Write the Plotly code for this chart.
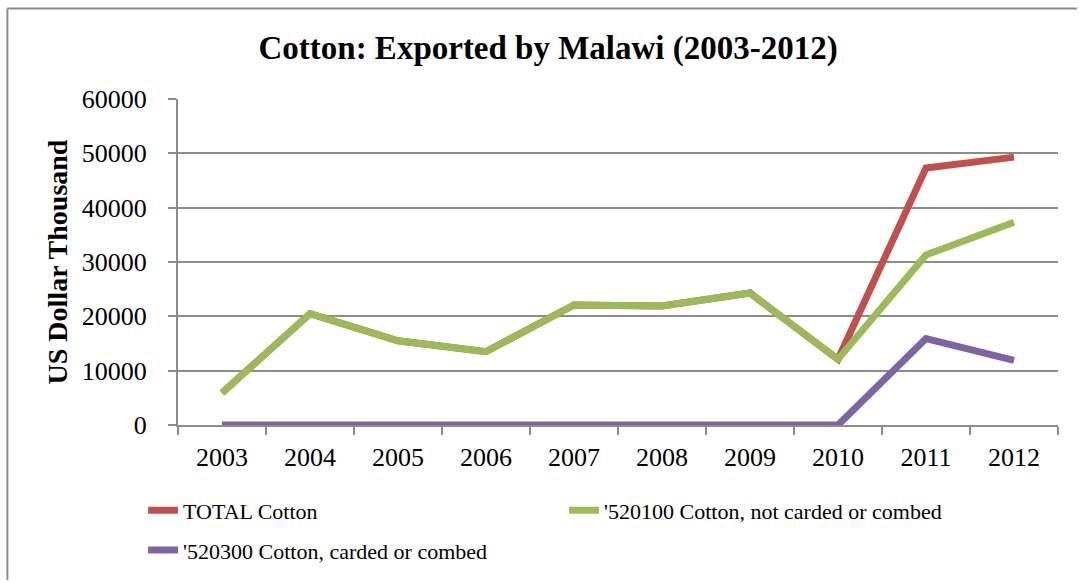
import plotly.graph_objects as go

years = ["2003", "2004", "2005", "2006", "2007", "2008", "2009", "2010", "2011", "2012"]
total_cotton = [5900, 20500, 15500, 13500, 22100, 21900, 24300, 12100, 47300, 49300]
not_carded = [5900, 20500, 15500, 13500, 22100, 21900, 24300, 12100, 31300, 37300]
carded = [0, 0, 0, 0, 0, 0, 0, 0, 15900, 11900]
y_ticks = [0, 10000, 20000, 30000, 40000, 50000, 60000]

serif = "Liberation Serif"
grid = "#8c8c8c"
PW, PH = 882, 328  # plot area size in px (for paper coords)

fig = go.Figure()
fig.add_trace(go.Scatter(x=years, y=total_cotton, mode="lines", name="TOTAL Cotton",
                         line=dict(color="#C0504D", width=7), legend="legend"))
fig.add_trace(go.Scatter(x=years, y=not_carded, mode="lines", name="'520100 Cotton, not carded or combed",
                         line=dict(color="#9BBB59", width=7), legend="legend"))
fig.add_trace(go.Scatter(x=years, y=carded, mode="lines", name="'520300 Cotton, carded or combed",
                         line=dict(color="#8064A2", width=7), legend="legend2"))

legend_font = dict(family=serif, size=22, color="black")

fig.update_layout(
    width=1079, height=583,
    margin=dict(l=178, r=21, t=99, b=156),
    paper_bgcolor="white", plot_bgcolor="white",
    title=dict(text="<b>Cotton: Exported by Malawi (2003-2012)</b>",
               x=0.508, xanchor="center", y=0.918, yanchor="middle",
               font=dict(family=serif, size=33, color="black")),
    xaxis=dict(type="category", range=[-0.5, 9.5], showgrid=False, showline=True,
               linecolor=grid, linewidth=2,
               ticks="outside", tickson="boundaries", ticklen=8, tickcolor=grid, tickwidth=2,
               ticklabelstandoff=8,
               tickfont=dict(family=serif, size=26, color="black")),
    yaxis=dict(range=[0, 60000], tickvals=y_ticks, tickformat="d", showgrid=True,
               gridcolor=grid, gridwidth=2,
               showline=True, linecolor=grid, linewidth=2, zeroline=False,
               ticks="outside", ticklen=8, tickcolor=grid, tickwidth=2,
               ticklabelstandoff=16,
               tickfont=dict(family=serif, size=26, color="black"),
               title=dict(text="<b>US Dollar Thousand</b>",
                          font=dict(family=serif, size=28, color="black"),
                          standoff=6)),
    legend=dict(orientation="h", x=(143 - 178) / PW, xanchor="left",
                y=-(513 - 427) / PH, yanchor="middle",
                entrywidth=376, entrywidthmode="pixels",
                font=legend_font, bgcolor="rgba(0,0,0,0)"),
    legend2=dict(orientation="h", x=(143 - 178) / PW, xanchor="left",
                 y=-(553 - 427) / PH, yanchor="middle",
                 font=legend_font, bgcolor="rgba(0,0,0,0)"),
    shapes=[
        dict(type="line", xref="paper", yref="paper",
             x0=-171 / PW, x1=(1079 - 178) / PW, y0=(427 - 8) / PH, y1=(427 - 8) / PH,
             line=dict(color=grid, width=2)),
        dict(type="line", xref="paper", yref="paper",
             x0=-171 / PW, x1=-171 / PW, y0=(427 - 8) / PH, y1=-(583 - 427) / PH,
             line=dict(color=grid, width=2)),
    ],
)

fig.write_html("out.html")
